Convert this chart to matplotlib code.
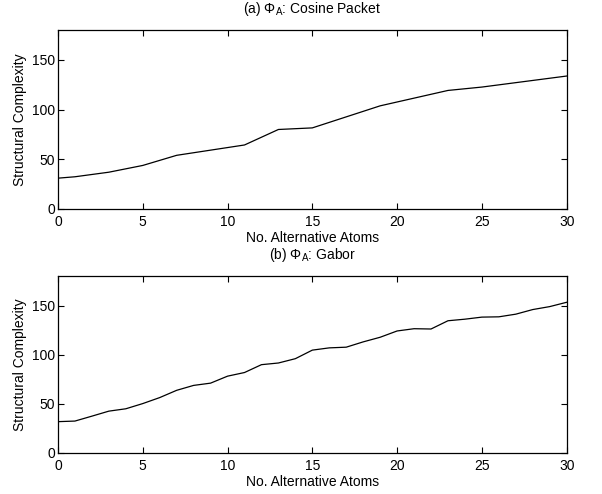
import matplotlib
matplotlib.use("Agg")
import matplotlib.pyplot as plt

plt.rcParams['font.family'] = ['Liberation Sans', 'DejaVu Sans']
plt.rcParams['mathtext.fontset'] = 'custom'
plt.rcParams['mathtext.rm'] = 'Liberation Sans'
plt.rcParams['mathtext.it'] = 'Liberation Sans'

# (a) cosine packet
x_cos = [0, 1, 3, 5, 7, 11, 13, 15, 19, 23, 25, 30]
y_cos = [31, 32.4, 37, 43.8, 54, 64.4, 80, 81.6, 103.8, 119.3, 122.7, 133.8]

# (b) gabor
x_gab = list(range(31))
y_gab = [31.9, 32.5, 37.5, 42.6, 45, 50.3, 56.4, 63.8, 68.8, 71.1, 78.2, 81.9,
         89.9, 91.6, 96, 104.7, 107, 107.7, 113.1, 117.8, 124.2, 126.5, 126.2,
         134.6, 136.2, 138.3, 138.6, 141.3, 146, 149, 153.4]

titles = [r'(a) $\Phi_\mathrm{A}$: Cosine Packet', r'(b) $\Phi_\mathrm{A}$: Gabor']
xticks = [0, 5, 10, 15, 20, 25, 30]
yticks = [0, 50, 100, 150]

fig = plt.figure(figsize=(6.02, 4.94), dpi=100)
ax1 = fig.add_axes([0.0963, 0.577, 0.845, 0.362])
ax2 = fig.add_axes([0.0963, 0.083, 0.845, 0.358])

for ax, xs, ys, t in [(ax1, x_cos, y_cos, titles[0]), (ax2, x_gab, y_gab, titles[1])]:
    ax.plot(xs, ys, color='black', lw=0.9)
    ax.set_xlim(0, 30)
    ax.set_ylim(0, 180)
    ax.set_xticks(xticks)
    ax.set_yticks(yticks)
    ax.tick_params(direction='in', top=True, right=True, labelsize=10, length=4)
    ax.tick_params(axis='x', pad=4)
    ax.tick_params(axis='y', pad=2)
    for s in ax.spines.values():
        s.set_linewidth(0.9)
    ax.set_title(t, fontsize=10, pad=12)
    ax.set_xlabel('No. Alternative Atoms', fontsize=10, labelpad=2)
    ax.set_ylabel('Structural Complexity', fontsize=10, labelpad=4)

fig.savefig('out.png', dpi=100)
